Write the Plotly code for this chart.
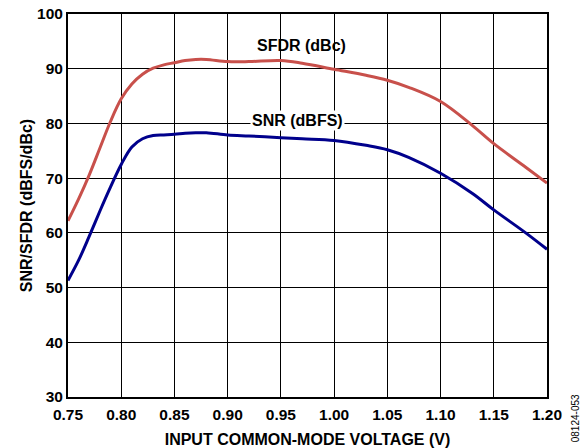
import plotly.graph_objects as go

voltage = [0.75, 0.76, 0.77, 0.78, 0.79, 0.80, 0.81, 0.82, 0.83, 0.84, 0.85, 0.86, 0.87, 0.88,
           0.90, 0.92, 0.95, 0.97, 1.00, 1.03, 1.05, 1.07, 1.10, 1.13, 1.15, 1.18, 1.20]
sfdr = [62.2, 66.2, 70.6, 75.5, 80.4, 84.5, 87.2, 89.0, 90.1, 90.7, 91.1, 91.5, 91.7, 91.7,
        91.3, 91.3, 91.5, 91.0, 89.9, 88.8, 87.9, 86.6, 84.0, 79.6, 76.3, 72.0, 69.1]
snr = [51.3, 55.0, 59.4, 64.0, 68.4, 72.5, 75.7, 77.2, 77.8, 77.9, 78.0, 78.2, 78.3, 78.3,
       77.9, 77.7, 77.4, 77.2, 76.9, 76.0, 75.2, 73.8, 70.9, 67.2, 64.2, 60.0, 57.0]

x_ticks = [0.75, 0.80, 0.85, 0.90, 0.95, 1.00, 1.05, 1.10, 1.15, 1.20]
y_ticks = [30, 40, 50, 60, 70, 80, 90, 100]

font = "Liberation Sans, Arial, sans-serif"

# plot area targeted at page x 67.5-547, y 13.5-396.7 (body margin removed below)
PL, PR, PT, PB = 67.5, 547.0, 13.5, 396.7
W, H = 585, 448

fig = go.Figure()
fig.add_trace(go.Scatter(x=voltage, y=sfdr, mode="lines",
                         line=dict(color="#c8504b", width=3, shape="spline", smoothing=1.0),
                         showlegend=False))
fig.add_trace(go.Scatter(x=voltage, y=snr, mode="lines",
                         line=dict(color="#00008c", width=3, shape="spline", smoothing=1.0),
                         showlegend=False))

fig.add_annotation(x=0.969, y=94.25, xref="x", yref="y", text="<b>SFDR (dBc)</b>",
                   showarrow=False, font=dict(family=font, size=16, color="black"))
fig.add_annotation(x=0.966, y=80.55, xref="x", yref="y", text="<b>SNR (dBFS)</b>",
                   showarrow=False, bgcolor="white", borderpad=1,
                   font=dict(family=font, size=16, color="black"))
fig.add_annotation(xref="paper", yref="paper", xanchor="center", yanchor="middle",
                   x=(575 - PL) / (PR - PL), y=-(418 - PB) / (PB - PT),
                   text="08124-053", showarrow=False, textangle=-90,
                   font=dict(family=font, size=10, color="black"))

fig.update_layout(
    width=W, height=H,
    margin=dict(l=PL, r=W - PR, t=PT, b=H - PB),
    paper_bgcolor="white", plot_bgcolor="white",
    font=dict(family=font, size=15, color="black"),
    xaxis=dict(range=[0.75, 1.20], tickvals=x_ticks,
               ticktext=["<b>%.2f</b>" % v for v in x_ticks],
               tickfont=dict(size=15.5), ticklabeloverflow="allow", ticklabelstandoff=2,
               showgrid=True, gridcolor="black", gridwidth=1.2,
               showline=True, linecolor="black", linewidth=2, mirror=True,
               ticks="", zeroline=False, automargin=False,
               title=dict(text="<b>INPUT COMMON-MODE VOLTAGE (V)</b>", standoff=12,
                          font=dict(size=16))),
    yaxis=dict(range=[30, 100], tickvals=y_ticks,
               ticktext=["<b>%d</b>" % v for v in y_ticks],
               tickfont=dict(size=15.5), ticklabeloverflow="allow",
               showgrid=True, gridcolor="black", gridwidth=1.2,
               showline=True, linecolor="black", linewidth=2, mirror=True,
               ticks="", zeroline=False, automargin=False,
               title=dict(text="<b>SNR/SFDR (dBFS/dBc)</b>", standoff=0,
                          font=dict(size=16))),
)

fig.write_html("out.html", config={"displayModeBar": False},
               post_script="document.body.style.margin='0';")
